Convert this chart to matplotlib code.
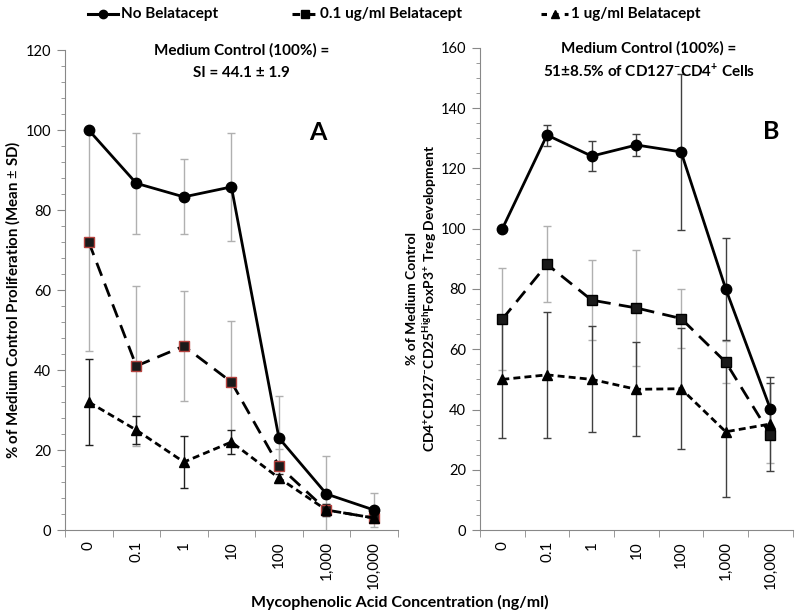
import matplotlib
matplotlib.use("Agg")
import matplotlib.pyplot as plt
from matplotlib.ticker import MultipleLocator, FixedLocator
from matplotlib.lines import Line2D

plt.rcParams['font.family'] = ['Lato', 'DejaVu Sans']
plt.rcParams['mathtext.fontset'] = 'custom'
plt.rcParams['mathtext.rm'] = 'Lato'
plt.rcParams['mathtext.bf'] = 'Lato:bold'

conc = ["0", "0.1", "1", "10", "100", "1,000", "10,000"]

# panel A - proliferation
a_none = [100, 86.7, 83.3, 85.8, 23, 9, 5]
a_none_sd = [0, 12.6, 9.4, 13.5, 10.4, 9.4, 4.2]
a_low = [72, 41, 46, 37, 16, 5, 3]
a_low_sd = [27.2, 20, 13.7, 15.2, 4.2, 1.5, 1]
a_high = [32, 25, 17, 22, 13, 5, 3]
a_high_sd = [10.7, 3.6, 6.6, 2.9, 1, 1.5, 0.8]

# panel B - Treg development
b_none = [100, 131.1, 124.1, 127.8, 125.5, 80, 40.1]
b_none_sd = [0, 3.5, 5, 3.6, 25.9, 17, 8.6]
b_low = [70, 88.2, 76.3, 73.7, 70.2, 55.7, 31.6]
b_low_sd = [17, 12.6, 13.3, 19.2, 9.7, 7, 9.3]
b_high = [50, 51.5, 50, 46.7, 46.9, 32.6, 35.2]
b_high_sd = [19.3, 20.8, 17.6, 15.6, 20, 21.8, 15.5]

x = list(range(len(conc)))

fig = plt.figure(figsize=(8, 6.16), dpi=100)
axA = fig.add_axes([0.08125, 0.1396, 0.416, 0.779])
axB = fig.add_axes([0.6, 0.1396, 0.391, 0.7825])

long_dash = (0, (5, 3))
short_dash = (0, (2.5, 1.5))


def draw(ax, none, none_sd, low, low_sd, high, high_sd, sq_edge, none_ecol, high_ecol):
    ax.errorbar(x, low, yerr=low_sd, fmt='none', ecolor='#b0b0b0', elinewidth=1,
                capsize=3, capthick=1, zorder=1)
    ax.errorbar(x, none, yerr=none_sd, fmt='none', ecolor=none_ecol, elinewidth=1,
                capsize=3, capthick=1, zorder=1)
    ax.errorbar(x, high, yerr=high_sd, fmt='none', ecolor=high_ecol, elinewidth=1,
                capsize=3, capthick=1, zorder=1)
    ax.plot(x, low, color='black', lw=2, linestyle=long_dash, marker='s', ms=6.5,
            mfc='#1a1a1a', mec=sq_edge, mew=1, zorder=3)
    ax.plot(x, high, color='black', lw=2, linestyle=short_dash, marker='^', ms=7,
            mfc='black', mec='black', zorder=3)
    ax.plot(x, none, color='black', lw=2, linestyle='-', marker='o', ms=7.5,
            mfc='black', mec='black', zorder=4)

    ax.set_xlim(-0.5, 6.5)
    ax.spines['top'].set_visible(False)
    ax.spines['right'].set_visible(False)
    ax.spines['left'].set_color('#888888')
    ax.spines['bottom'].set_color('#888888')
    ax.set_xticks(x)
    ax.set_xticklabels(conc, rotation=90, fontsize=11)
    ax.xaxis.set_minor_locator(FixedLocator([i - 0.5 for i in range(8)]))
    ax.tick_params(axis='x', which='major', length=0, pad=8)
    ax.tick_params(axis='x', which='minor', length=5, color='#888888', direction='out')
    ax.tick_params(axis='y', which='major', length=6, color='#888888', labelsize=10.5, pad=4)
    ax.tick_params(axis='y', which='minor', length=3, color='#888888')
    ax.yaxis.set_major_locator(MultipleLocator(20))


draw(axA, a_none, a_none_sd, a_low, a_low_sd, a_high, a_high_sd,
     '#b5433f', '#b0b0b0', '#202020')
axA.set_ylim(0, 120)
axA.yaxis.set_minor_locator(MultipleLocator(4))
axA.set_ylabel("% of Medium Control Proliferation (Mean $\\pm$ SD)",
               fontsize=10.8, fontweight='bold')
axA.yaxis.set_label_coords(-0.128, 0.48)
axA.text(0.53, 1.0, "Medium Control (100%) =", transform=axA.transAxes,
         ha='center', va='center', fontsize=11, fontweight='bold')
axA.text(0.53, 0.953, "SI = 44.1 \u00b1 1.9", transform=axA.transAxes,
         ha='center', va='center', fontsize=11, fontweight='bold')
axA.text(0.76, 0.829, "A", transform=axA.transAxes, ha='center', va='center',
         fontsize=18, fontweight='bold')

draw(axB, b_none, b_none_sd, b_low, b_low_sd, b_high, b_high_sd,
     'black', '#404040', '#404040')
axB.set_ylim(0, 160)
axB.yaxis.set_minor_locator(MultipleLocator(5))
axB.set_ylabel("% of Medium Control\n"
               "CD4$^{\\mathbf{+}}$CD127$^{\\mathbf{-}}$CD25$^{\\mathbf{High}}$"
               "FoxP3$^{\\mathbf{+}}$ Treg Development",
               fontsize=10, fontweight='bold', linespacing=1.15)
axB.yaxis.set_label_coords(-0.132, 0.48)
axB.text(0.54, 1.0, "Medium Control (100%) =", transform=axB.transAxes,
         ha='center', va='center', fontsize=11, fontweight='bold')
axB.text(0.54, 0.953, "51\u00b18.5% of CD127$^{\\mathbf{-}}$CD4$^{\\mathbf{+}}$ Cells",
         transform=axB.transAxes, ha='center', va='center', fontsize=11, fontweight='bold')
axB.text(0.93, 0.826, "B", transform=axB.transAxes, ha='center', va='center',
         fontsize=18, fontweight='bold')

fig.text(0.5, 0.022, "Mycophenolic Acid Concentration (ng/ml)", ha='center', va='center',
         fontsize=11.5, fontweight='bold')

# legend drawn by hand along the top
labels = ["No Belatacept", "0.1 ug/ml Belatacept", "1 ug/ml Belatacept"]
leg_styles = ['-', (0, (2.5, 2.5)), (0, (1.8, 2))]
leg_markers = ['o', 's', '^']
leg_x = [88, 292, 541]
leg_w = [30, 25, 27]
leg_y = 1 - 14 / 616
for lab, ls, mk, lx, lw in zip(labels, leg_styles, leg_markers, leg_x, leg_w):
    x0, x1 = lx / 800, (lx + lw) / 800
    fig.add_artist(Line2D([x0, x1], [leg_y, leg_y], transform=fig.transFigure,
                          color='black', lw=2.2, linestyle=ls))
    fig.add_artist(Line2D([(x0 + x1) / 2], [leg_y], transform=fig.transFigure,
                          color='black', marker=mk, ms=6, linestyle='none'))
    fig.text((lx + lw + 3) / 800, leg_y, lab, ha='left', va='center',
             fontsize=11, fontweight='bold')

fig.savefig("out.png", dpi=100)
